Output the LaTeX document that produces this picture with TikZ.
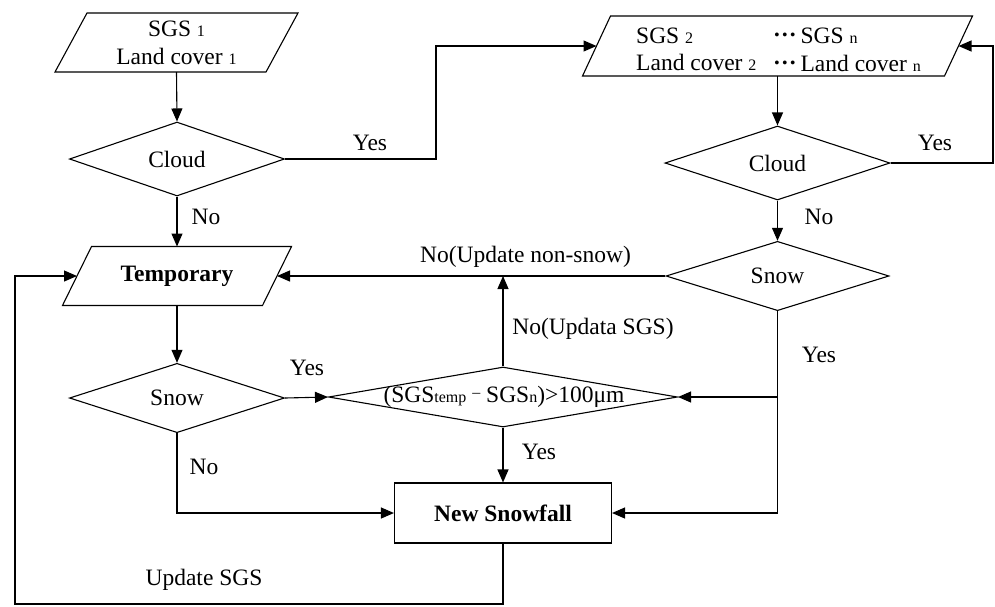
\documentclass[tikz,border=0pt]{standalone}
\usepackage{fontspec}
\setmainfont{Liberation Serif}
\usetikzlibrary{shapes.geometric,arrows.meta}
\newcommand\mainfs{\fontsize{23.5}{28}\selectfont}
\newcommand\subfs{\fontsize{16}{16}\selectfont}
\newcommand\middots{\raisebox{7pt}{\textbf{…}}}
\begin{document}
\begin{tikzpicture}[x=1pt,y=-1pt,
  every node/.style={font=\mainfs, inner sep=0pt},
  ln/.style={line width=1.1pt},
  pbox/.style={rectangle, outer sep=0pt, align=center},
  dia/.style={draw, diamond, line width=1.1pt},
  procbox/.style={draw, rectangle, line width=1.1pt, font=\mainfs\bfseries},
  arr/.style={-{Triangle[length=13pt,width=11pt]}, line width=1.1pt},
  lbl/.style={font=\mainfs}]
\useasboundingbox (0,0) rectangle (995,606);

% input 1
\node[pbox, minimum width=211, minimum height=59] (in1) at (176.5,42.5) {SGS {\subfs 1}\\Land cover {\subfs 1}};
\draw[ln] ([xshift=16pt]in1.north west) -- ([xshift=16pt]in1.north east) -- ([xshift=-16pt]in1.south east) -- ([xshift=-16pt]in1.south west) -- cycle;

% input 2
\node[pbox, minimum width=362, minimum height=60] (in2) at (777.5,46) {};
\draw[ln] ([xshift=14pt]in2.north west) -- ([xshift=14pt]in2.north east) -- ([xshift=-14pt]in2.south east) -- ([xshift=-14pt]in2.south west) -- cycle;
\node[anchor=base west] (t2a) at (636,43) {SGS {\subfs 2}};
\node[anchor=base west] (t2b) at (773,43) {\middots\,SGS {\subfs n}};
\node[anchor=base west] (t2c) at (636,70) {Land cover {\subfs 2}};
\node[anchor=base west] (t2d) at (773,71) {\middots\,Land cover {\subfs n}};

% temporary
\node[pbox, minimum width=200, minimum height=59, font=\mainfs\bfseries] (temp) at (177,276) {Temporary};
\draw[ln] ([xshift=14.5pt]temp.north west) -- ([xshift=14.5pt]temp.north east) -- ([xshift=-14.5pt]temp.south east) -- ([xshift=-14.5pt]temp.south west) -- cycle;

% diamonds
\node[dia, minimum width=215, minimum height=59] (cloud1) at (177,159) {Cloud};
\node[dia, minimum width=225, minimum height=59] (cloud2) at (777.5,163) {Cloud};
\node[dia, minimum width=223, minimum height=58] (snow2) at (777.5,276) {Snow};
\node[dia, minimum width=215, minimum height=59] (snow1) at (177,398) {Snow};
\node[dia, minimum width=349, minimum height=60] (sgs) at (503,397) {};
\node (sgstxt) at (504,397) {(SGS{\subfs temp} {\subfs\raisebox{5pt}{–}} SGS{\subfs n})>100μm};

% new snowfall
\node[procbox, minimum width=217, minimum height=60] (newsnow) at (503,513) {New Snowfall};

% helper coordinates
\coordinate (c1y) at (436,159);
\coordinate (c2r) at (993,163);
\coordinate (lb) at (15,604);

% connectors
\draw[arr] (in1.south) -- (cloud1.north);
\draw[arr] (cloud1.south) -- (temp.north);
\draw[arr] (cloud1.east) -- (c1y) |- (in2.west);
\draw[arr] (in2.south) -- (cloud2.north);
\draw[arr] (cloud2.east) -- (c2r) |- (in2.east);
\draw[arr] (cloud2.south) -- (snow2.north);
\draw[arr] (snow2.west) -- (snow2.west -| temp.east);
\draw[arr] (temp.south) -- (snow1.north);
\draw[arr] (snow1.east) -- (sgs.west);
\draw[arr] (sgs.north) -- (sgs.north |- snow2.west);
\draw[arr] (snow2.south) |- (sgs.east);
\draw[arr] (snow2.south) |- (newsnow.east);
\draw[arr] (sgs.south) -- (newsnow.north);
\draw[arr] (snow1.south) |- (newsnow.west);
\draw[arr] (newsnow.south) |- (lb) |- (temp.west);

% labels
\node[lbl] (l1) at (370,143) {Yes};
\node[lbl] (l2) at (206,217) {No};
\node[lbl] (l3) at (935,143) {Yes};
\node[lbl] (l4) at (819,217) {No};
\node[lbl] (l5) at (525.5,257) {No(Update non-snow)};
\node[lbl] (l6) at (307,368) {Yes};
\node[lbl] (l7) at (204,467) {No};
\node[lbl] (l8) at (204,580) {Update SGS};
\node[lbl] (l9) at (593,329) {No(Updata SGS)};
\node[lbl] (l10) at (819,355) {Yes};
\node[lbl] (l11) at (539,452) {Yes};
\end{tikzpicture}
\end{document}
